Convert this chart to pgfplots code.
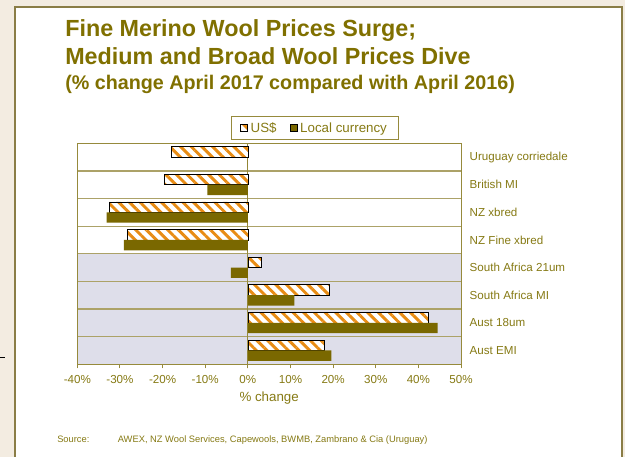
\documentclass[border=0pt]{standalone}
\usepackage{pgfplots}
\pgfplotsset{compat=1.18}
\usepackage{fontspec}
\setmainfont{Liberation Sans}
\usetikzlibrary{patterns.meta}
\definecolor{bgbeige}{RGB}{243,236,225}
\definecolor{panelborder}{RGB}{138,125,70}
\definecolor{titlecol}{RGB}{128,112,0}
\definecolor{labcol}{RGB}{134,122,20}
\definecolor{axiscol}{RGB}{150,138,60}
\definecolor{gridcol}{RGB}{172,162,104}
\definecolor{lavender}{RGB}{222,222,234}
\definecolor{localcol}{RGB}{122,104,0}
\definecolor{stripe}{RGB}{232,140,20}
\begin{document}
\begin{tikzpicture}
\useasboundingbox (0,0) rectangle (468.75pt,-342.75pt);
\fill[bgbeige] (0,0) rectangle (468.75pt,-342.75pt);
\filldraw[fill=white, draw=panelborder, line width=1.5pt] (11.6pt,-5.6pt) rectangle (466.5pt,-350pt);
\draw[black, line width=0.8pt] (0pt,-268pt) -- (3.8pt,-268pt);
\fill[lavender] (57.98pt,-190.35pt) rectangle (345.75pt,-273.2pt);
\node[anchor=base west, inner sep=0, text=titlecol, font=\bfseries\fontsize{17.5}{21}\selectfont] at (48.75pt,-27.5pt) {Fine Merino Wool Prices Surge;};
\node[anchor=base west, inner sep=0, text=titlecol, font=\bfseries\fontsize{17.5}{21}\selectfont] at (48.75pt,-48.2pt) {Medium and Broad Wool Prices Dive};
\node[anchor=base west, inner sep=0, text=titlecol, font=\bfseries\fontsize{14.8}{18}\selectfont] at (48.75pt,-67pt) {(\% change April 2017 compared with April 2016)};
\node[anchor=base west, inner sep=0, text=labcol, font=\fontsize{7}{8}\selectfont] at (42.75pt,-331.5pt) {Source:};
\node[anchor=base west, inner sep=0, text=labcol, font=\fontsize{7}{8}\selectfont] at (88.2pt,-331.5pt) {AWEX, NZ Wool Services, Capewools, BWMB, Zambrano \& Cia (Uruguay)};
\begin{axis}[
  at={(57.98pt,-273.2pt)}, anchor=south west,
  scale only axis, width=287.8pt, height=165.75pt,
  xbar=0pt, bar width=7.8pt,
  xmin=-40, xmax=50, ymin=-0.5, ymax=7.5, y dir=reverse,
  xtick={-40,-30,...,50},
  xticklabels={-40\%,-30\%,-20\%,-10\%,0\%,10\%,20\%,30\%,40\%,50\%},
  x tick label style={yshift=-1.5pt},
  ytick={0,...,7},
  yticklabels={Uruguay corriedale, British MI, NZ xbred, NZ Fine xbred, South Africa 21um, South Africa MI, Aust 18um, Aust EMI},
  yticklabel pos=right,
  y tick label style={anchor=west},
  minor ytick={0.5,1.5,...,6.5},
  yminorgrids,
  minor grid style={draw=gridcol, line width=0.9pt},
  y tick style={draw=none},
  xtick pos=lower,
  tick align=outside,
  major tick length=3pt,
  axis line style={draw=axiscol, line width=0.75pt},
  x tick style={draw=axiscol, line width=0.75pt},
  tick label style={text=labcol, font=\fontsize{8.7}{10}\selectfont},
  xlabel={\% change},
  xlabel style={text=labcol, font=\fontsize{10}{12}\selectfont, yshift=6.5pt},
  extra x ticks={0}, extra x tick labels={},
  extra x tick style={grid=major, major grid style={draw=axiscol, line width=0.75pt}},
  legend columns=2,
  legend style={draw=axiscol, line width=0.75pt, text=labcol, font=\fontsize{10}{12}\selectfont,
    at={(0.6195,1)}, anchor=south, yshift=2.5pt, inner xsep=7pt,
    /tikz/every even column/.append style={column sep=8pt}},
  legend image code/.code={\draw[#1, line width=0.5pt] (0pt,-2.6pt) rectangle (5.2pt,2.6pt);},
]
\addplot[bar shift=3.9pt, draw=black, line width=0.5pt, preaction={fill=white},
  pattern={Lines[angle=-45,distance=5.66pt,line width=2.2pt]}, pattern color=stripe]
  coordinates {(-17.9,0) (-19.6,1) (-32.5,2) (-28.3,3) (3.1,4) (19.1,5) (42.3,6) (17.9,7)};
\addplot[bar shift=-3.9pt, fill=localcol, draw=none]
  coordinates {(0,0) (-9.5,1) (-33.1,2) (-29.1,3) (-4.0,4) (10.9,5) (44.5,6) (19.6,7)};
\legend{US\$, Local currency}
\end{axis}
\end{tikzpicture}
\end{document}
